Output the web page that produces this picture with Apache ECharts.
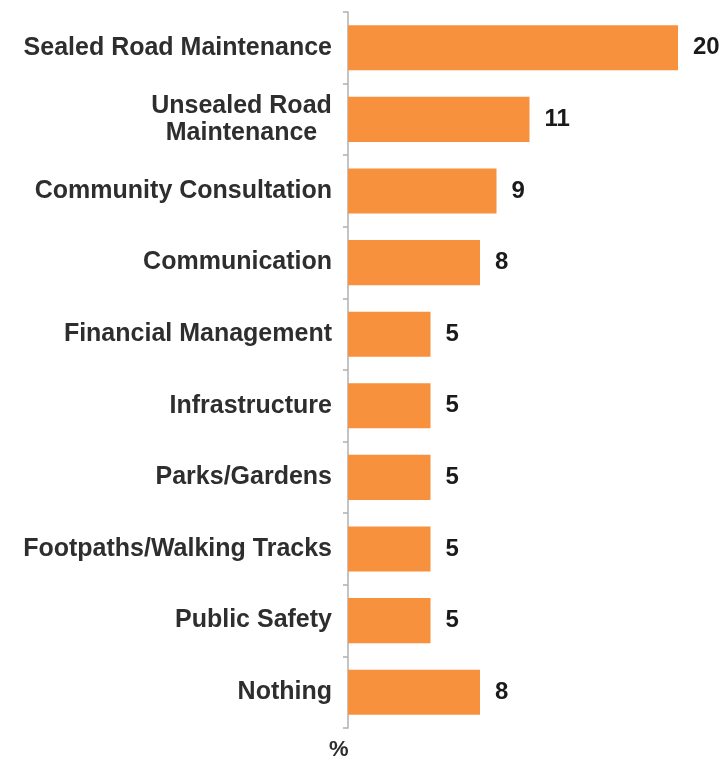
<!DOCTYPE html>
<html>
<head>
<meta charset="utf-8">
<script src="https://cdn.jsdelivr.net/npm/echarts@6/dist/echarts.min.js"></script>
<style>
  html, body { margin: 0; padding: 0; background: #fff; }
  #chart { width: 722px; height: 763px; }
</style>
</head>
<body>
<div id="chart"></div>
<script>
// Issue categories, top to bottom
const categories = [
  'Sealed Road Maintenance',
  'Unsealed Road\nMaintenance',
  'Community Consultation',
  'Communication',
  'Financial Management',
  'Infrastructure',
  'Parks/Gardens',
  'Footpaths/Walking Tracks',
  'Public Safety',
  'Nothing'
];
// Share of respondents (%)
const values = [20, 11, 9, 8, 5, 5, 5, 5, 5, 8];
const axisUnit = '%';

const FONT = 'Liberation Sans, Arial, sans-serif';

// Multi-line labels are centred line by line inside a block as wide as their longest line
function labelFormatter(v) {
  if (v.indexOf('\n') < 0) return v;
  return v.split('\n').map(function (s) { return '{c|' + s + '}'; }).join('\n');
}

const chart = echarts.init(document.getElementById('chart'));
chart.setOption({
  animation: false,
  grid: { left: 348, top: 12, width: 330, height: 716, containLabel: false },
  xAxis: {
    type: 'value', min: 0, max: 20, show: false
  },
  yAxis: {
    type: 'category',
    inverse: true,
    data: categories,
    axisLine: { show: true, lineStyle: { color: '#b0b0b0', width: 1.5 } },
    axisTick: { show: true, inside: false, length: 5, lineStyle: { color: '#b0b0b0', width: 1.5 } },
    axisLabel: {
      margin: 16,
      color: '#2e2e2e',
      fontFamily: FONT,
      fontWeight: 'bold',
      fontSize: 25,
      lineHeight: 28,
      align: 'right',
      formatter: labelFormatter,
      rich: {
        c: {
          width: 181,
          align: 'center',
          color: '#2e2e2e',
          fontFamily: FONT,
          fontWeight: 'bold',
          fontSize: 25,
          lineHeight: 27
        }
      }
    }
  },
  series: [{
    type: 'bar',
    data: values,
    barWidth: '63%',
    itemStyle: { color: '#F7913D' },
    label: {
      show: true,
      position: 'right',
      distance: 15,
      color: '#1a1a1a',
      fontFamily: FONT,
      fontWeight: 'bold',
      fontSize: 24
    }
  }],
  graphic: [{
    type: 'text',
    left: 329,
    top: 739,
    style: {
      text: axisUnit,
      fill: '#2e2e2e',
      font: 'bold 22px Liberation Sans, Arial, sans-serif'
    }
  }]
});
</script>
</body>
</html>
